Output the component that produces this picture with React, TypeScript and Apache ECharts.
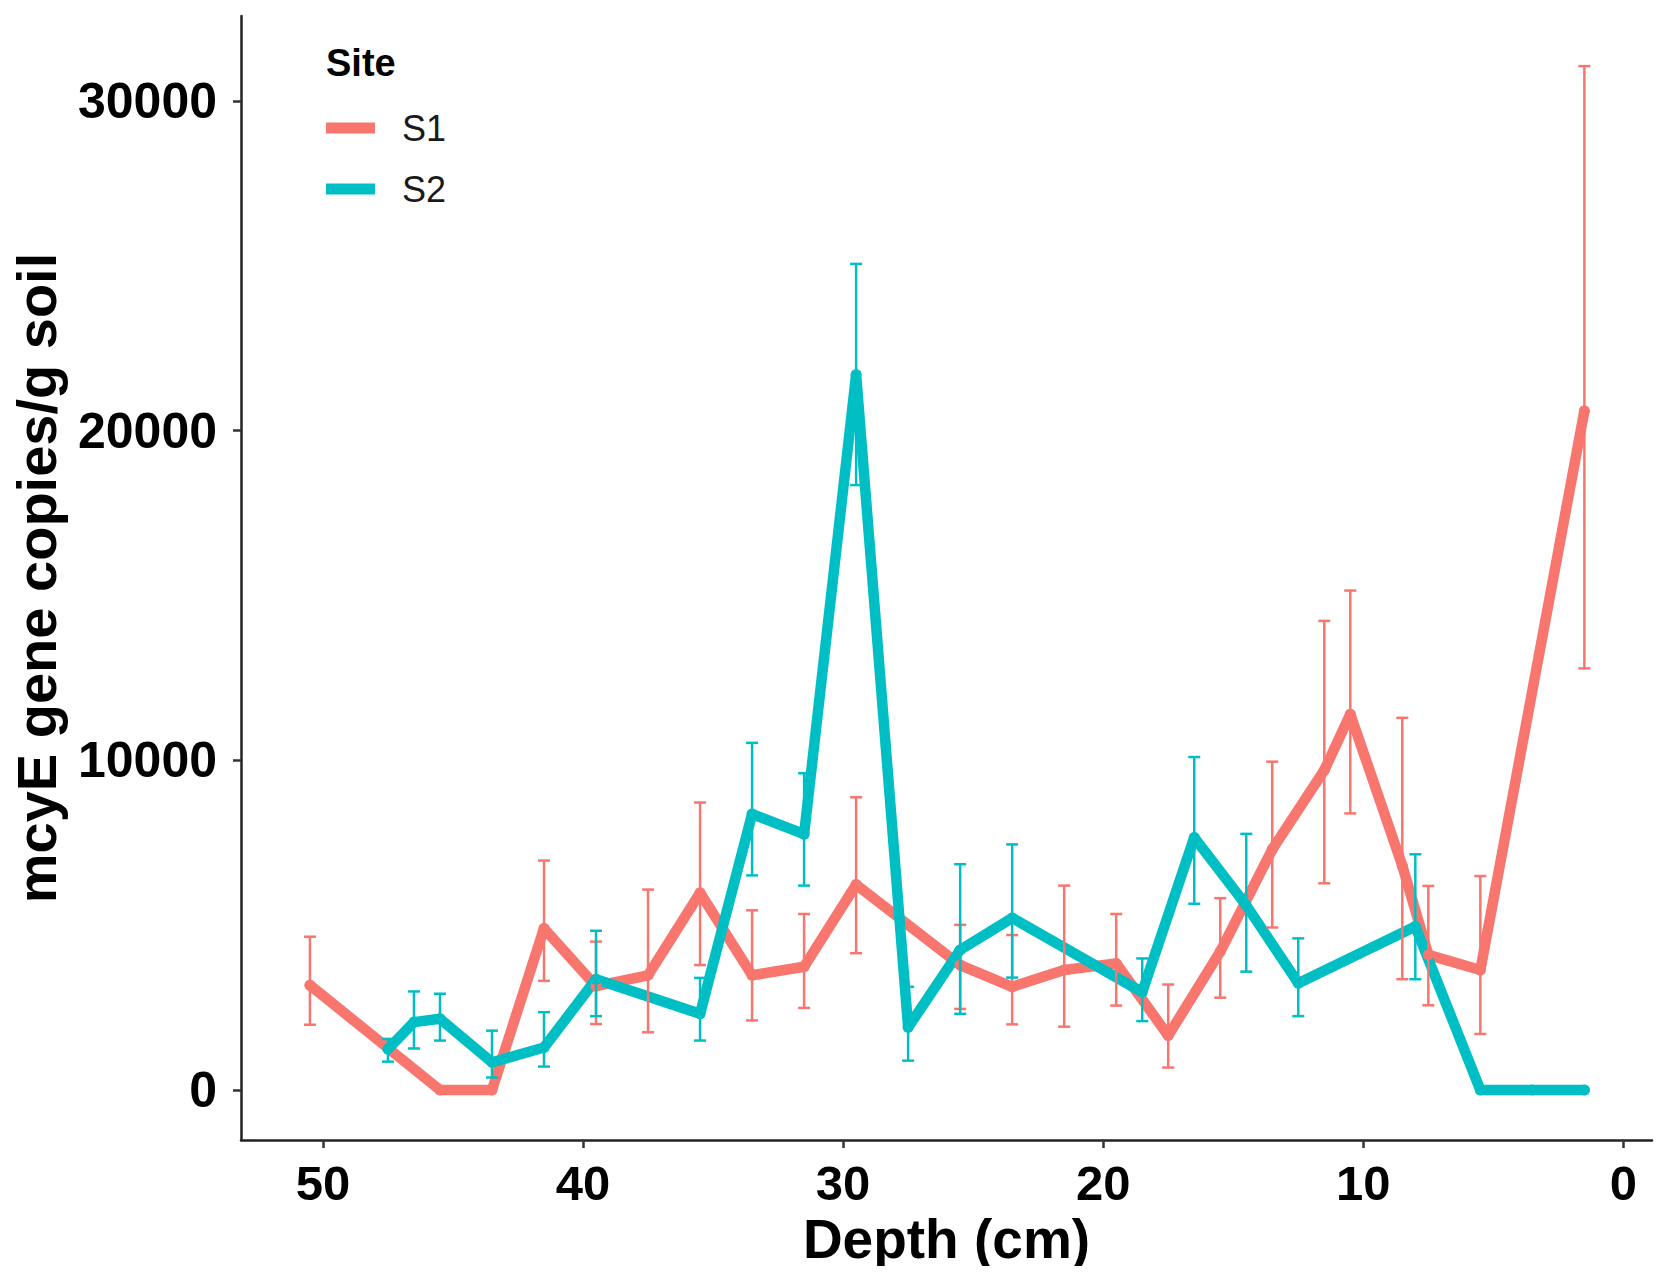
import React, { useEffect, useRef } from "react";
import * as echarts from "echarts";

// ---- data ----
const s1Depth = [50.5, 45.5, 43.5, 41.5, 39.5, 37.5, 35.5, 33.5, 31.5, 29.5, 25.5, 23.5, 21.5, 19.5, 17.5, 15.5, 13.5, 11.5, 10.5, 8.5, 7.5, 5.5, 1.5];
const s1Mean = [3180, 0, 0, 4900, 3150, 3480, 5980, 3480, 3740, 6230, 3790, 3130, 3640, 3840, 1650, 4200, 7300, 9700, 11400, 6800, 4100, 3640, 20600];
const s1Lo = [1980, 0, 0, 3310, 2000, 1750, 3790, 2110, 2490, 4150, 2460, 1990, 1920, 2560, 680, 2800, 4930, 6270, 8390, 3360, 2570, 1700, 12790];
const s1Hi = [4650, 0, 0, 6960, 4500, 6080, 8720, 5450, 5340, 8880, 5010, 4700, 6200, 5340, 3200, 5820, 9960, 14230, 15150, 11290, 6190, 6490, 31060];

const s2Depth = [47.5, 46.5, 45.5, 43.5, 41.5, 39.5, 35.5, 33.5, 31.5, 29.5, 27.5, 25.5, 23.5, 18.5, 16.5, 14.5, 12.5, 8, 5.5, 3.5, 1.5];
const s2Mean = [1240, 2060, 2160, 840, 1290, 3360, 2310, 8370, 7760, 21700, 1900, 4250, 5220, 2970, 7660, 5600, 3240, 4960, 0, 0, 0];
const s2Lo = [860, 1260, 1500, 380, 710, 2240, 1500, 6510, 6200, 18350, 890, 2310, 3410, 2090, 5650, 3590, 2240, 3360, 0, 0, 0];
const s2Hi = [1550, 2990, 2920, 1800, 2360, 4830, 3400, 10530, 9610, 25060, 3130, 6850, 7450, 3990, 10100, 7770, 4600, 7150, 0, 0, 0];

const xTicks = [50, 40, 30, 20, 10, 0];
const yTicks = [0, 10000, 20000, 30000];
const siteNames = ["S1", "S2"];
const siteColors = ["#F8766D", "#00BFC4"];

const FONT = "Liberation Sans, Arial, sans-serif";

function errorSeries(name: string, color: string, depth: number[], lo: number[], hi: number[]) {
  const data = depth
    .map((d, i) => [d, lo[i], hi[i]])
    .filter((r) => r[2] - r[1] > 0);
  return {
    type: "custom",
    name,
    z: 5,
    silent: true,
    data,
    encode: { x: 0, y: [1, 2] },
    renderItem: (params: any, api: any) => {
      const x = api.value(0);
      const a = api.coord([x, api.value(1)]);
      const b = api.coord([x, api.value(2)]);
      const half = 6;
      const style = { stroke: color, lineWidth: 2.5, fill: "none" };
      return {
        type: "group",
        children: [
          { type: "line", shape: { x1: a[0], y1: a[1], x2: b[0], y2: b[1] }, style },
          { type: "line", shape: { x1: a[0] - half, y1: a[1], x2: a[0] + half, y2: a[1] }, style },
          { type: "line", shape: { x1: b[0] - half, y1: b[1], x2: b[0] + half, y2: b[1] }, style },
        ],
      };
    },
  };
}

function lineSeries(name: string, color: string, depth: number[], mean: number[]) {
  return {
    type: "line",
    name,
    z: 3,
    data: depth.map((d, i) => [d, mean[i]]),
    showSymbol: true,
    symbol: "circle",
    symbolSize: 11,
    itemStyle: { color },
    lineStyle: { color, width: 10.5, join: "round", cap: "round" },
    emphasis: { disabled: true },
  };
}

export default function App() {
  const ref = useRef<HTMLDivElement>(null);
  useEffect(() => {
    if (!ref.current) return;
    const chart = echarts.init(ref.current, null, { renderer: "svg" });
    chart.setOption({
      animation: false,
      backgroundColor: "#ffffff",
      grid: { left: 240, right: 17, top: 16, bottom: 134 },
      xAxis: {
        type: "value",
        inverse: true,
        min: -1.1,
        max: 53.15,
        name: "Depth (cm)",
        nameLocation: "middle",
        nameGap: 70,
        nameTextStyle: { fontFamily: FONT, fontWeight: "bold", fontSize: 55, color: "#000" },
        axisLine: { show: true, onZero: false, lineStyle: { color: "#222", width: 2.5 } },
        axisTick: { show: true, length: 8, lineStyle: { color: "#333", width: 2.5 }, customValues: xTicks },
        axisLabel: { customValues: xTicks, margin: 18, fontFamily: FONT, fontWeight: "bold", fontSize: 49, color: "#000" },
        splitLine: { show: false },
      },
      yAxis: {
        type: "value",
        min: -1517,
        max: 32580,
        name: "mcyE gene copies/g soil",
        nameLocation: "middle",
        nameGap: 177,
        nameRotate: 90,
        nameTextStyle: { fontFamily: FONT, fontWeight: "bold", fontSize: 56, color: "#000" },
        axisLine: { show: true, onZero: false, lineStyle: { color: "#222", width: 2.5 } },
        axisTick: { show: true, length: 8, lineStyle: { color: "#333", width: 2.5 }, customValues: yTicks },
        axisLabel: {
          customValues: yTicks,
          margin: 24,
          fontFamily: FONT,
          fontWeight: "bold",
          fontSize: 50,
          color: "#000",
          formatter: (v: number) => String(v),
        },
        splitLine: { show: false },
      },
      legend: {
        data: siteNames.map((n) => ({ name: n, icon: "rect" })),
        orient: "vertical",
        left: 321,
        top: 105,
        itemWidth: 49,
        itemHeight: 11,
        itemGap: 25,
        textStyle: { fontFamily: FONT, fontSize: 36, color: "#1a1a1a", padding: [0, 0, 0, 22] },
        selectedMode: false,
      },
      graphic: [
        {
          type: "text",
          left: 326,
          top: 44,
          style: { text: "Site", fontFamily: FONT, fontWeight: "bold", fontSize: 38, fill: "#000" },
        },
      ],
      series: [
        lineSeries(siteNames[0], siteColors[0], s1Depth, s1Mean),
        lineSeries(siteNames[1], siteColors[1], s2Depth, s2Mean),
        errorSeries(siteNames[0], siteColors[0], s1Depth, s1Lo, s1Hi),
        errorSeries(siteNames[1], siteColors[1], s2Depth, s2Lo, s2Hi),
      ],
    });
    return () => chart.dispose();
  }, []);
  return <div ref={ref} style={{ width: 1669, height: 1274, margin: -8 }} />;
}
